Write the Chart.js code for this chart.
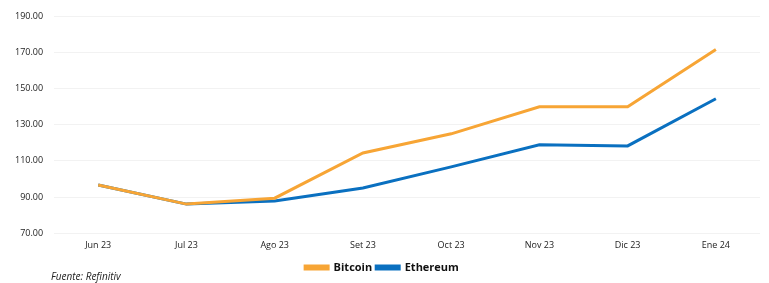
<!DOCTYPE html>
<html>
<head>
<meta charset="utf-8">
<script src="https://cdn.jsdelivr.net/npm/chart.js@4/dist/chart.umd.min.js"></script>
<style>
  html, body { margin: 0; padding: 0; background: #fff; }
  #wrap { position: relative; width: 769px; height: 283px; }
  #source { position: absolute; left: 51px; top: 269px; font: italic 10px "Open Sans", sans-serif; color: #222; }
</style>
</head>
<body>
<div id="wrap">
  <canvas id="chart" width="769" height="283"></canvas>
  <div id="source">Fuente: Refinitiv</div>
</div>
<script>
const labels = ["Jun 23", "Jul 23", "Ago 23", "Set 23", "Oct 23", "Nov 23", "Dic 23", "Ene 24"];
const bitcoin = [96.7, 86.1, 89.4, 114.4, 125.0, 140.0, 140.0, 171.7];
const ethereum = [96.7, 86.1, 87.8, 95.0, 106.7, 118.9, 118.3, 144.4];
const yTicks = [70, 90, 110, 130, 150, 170, 190];

const orange = "#F7A535";
const blue = "#0A70C0";

new Chart(document.getElementById("chart"), {
  type: "line",
  data: {
    labels: labels,
    datasets: [
      {
        label: "Bitcoin",
        data: bitcoin,
        borderColor: orange,
        backgroundColor: orange,
        borderWidth: 3,
        pointRadius: 0,
        tension: 0,
      },
      {
        label: "Ethereum",
        data: ethereum,
        borderColor: blue,
        backgroundColor: blue,
        borderWidth: 3,
        pointRadius: 0,
        tension: 0,
      },
    ],
  },
  options: {
    responsive: false,
    animation: false,
    layout: { padding: { top: 11, right: 9, left: 4, bottom: 0 } },
    plugins: {
      tooltip: { enabled: false },
      legend: {
        position: "bottom",
        labels: {
          boxWidth: 23,
          boxHeight: 3,
          padding: 4,
          color: "#111",
          font: { family: "Open Sans", size: 11, weight: "bold" },
        },
      },
    },
    scales: {
      x: {
        offset: true,
        grid: { display: false, drawTicks: false },
        border: { display: false },
        ticks: { color: "#222", padding: 7, font: { family: "Open Sans", size: 9 } },
      },
      y: {
        min: 70,
        max: 190,
        afterBuildTicks: (axis) => { axis.ticks = yTicks.map((v) => ({ value: v })); },
        grid: { color: "#f2f2f2", drawTicks: false },
        border: { display: false },
        ticks: {
          color: "#222",
          padding: 11,
          font: { family: "Open Sans", size: 9 },
          callback: (v) => Number(v).toFixed(2),
        },
      },
    },
  },
});
</script>
</body>
</html>
